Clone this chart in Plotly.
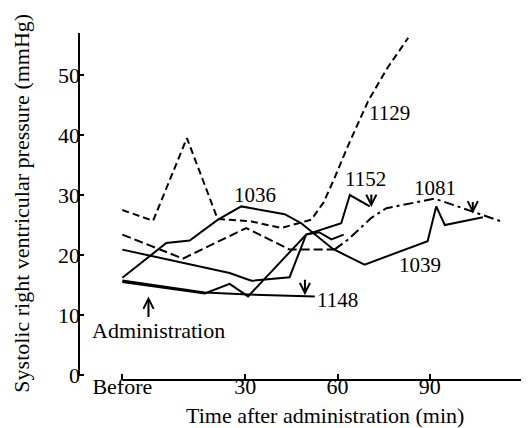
import plotly.graph_objects as go

# ---- data (time in min; "Before" plotted at -10) ----
x_tickvals = [-10, 30, 60, 90, 120]
x_ticktext = ["Before", "30", "60", "90", "120"]
y_tickvals = [0, 10, 20, 30, 40, 50]

t_1129 = [-10, 0, 11, 21, 32, 41.7, 51.5, 55.5, 59, 63.4, 70, 76, 83]
v_1129 = [27.5, 25.7, 39.5, 26.0, 25.6, 24.5, 25.9, 28.8, 32.8, 38.2, 45.7, 51.0, 56.2]

t_1036 = [-10, 4.3, 11.9, 21.1, 28.7, 42.8, 48.2, 58.5, 68.8, 89.3, 92.1, 94.9, 107.3]
v_1036 = [16.2, 22.0, 22.4, 25.9, 28.1, 26.8, 25.3, 21.0, 18.4, 22.3, 28.1, 25.0, 26.3]

t_1039 = [-10, 11.9, 24.9, 29.2, 32, 44.4, 49.8, 54, 58, 62]
v_1039 = [20.9, 18.4, 17.0, 16.2, 15.7, 16.3, 23.4, 23.8, 22.6, 23.4]

t_1152 = [-10, 16.8, 24.9, 30.9, 49.8, 55, 61.2, 64, 70.5]
v_1152 = [15.5, 13.6, 15.2, 13.1, 23.4, 24.3, 25.3, 30.0, 28.1]

t_1148 = [-10, 16.8, 31, 52.6]
v_1148 = [15.75, 13.75, 13.4, 13.1]

t_1081 = [-10, 9.7, 30.3, 44.4, 59, 63.5, 71, 75.9, 91.6, 107.3, 113.3]
v_1081 = [23.4, 19.4, 24.5, 20.9, 20.9, 22.6, 26.2, 27.8, 29.4, 26.7, 25.6]

FONT = "Liberation Serif, Times New Roman, DejaVu Serif, serif"
fig = go.Figure()

def add_line(t, v, dash="solid", width=2):
    fig.add_trace(go.Scatter(x=t, y=v, mode="lines",
                             line=dict(color="black", width=width, dash=dash),
                             showlegend=False, hoverinfo="skip"))

add_line(t_1129, v_1129, dash="7px,4px")
add_line(t_1036, v_1036)
add_line(t_1039, v_1039)
add_line(t_1152, v_1152)
add_line(t_1148, v_1148)
add_line(t_1081[:5], v_1081[:5], dash="9px,4px")
add_line(t_1081[4:], v_1081[4:], dash="10px,4px,3px,4px")

labels = [
    ("1036", 33.2, 30.0),
    ("1129", 76.8, 43.7),
    ("1152", 69.0, 32.7),
    ("1081", 91.7, 31.2),
    ("1039", 86.8, 18.3),
    ("1148", 59.9, 12.5),
]
annotations = []
for txt, x, y in labels:
    annotations.append(dict(x=x, y=y, text=txt, showarrow=False,
                            font=dict(family=FONT, size=21, color="black")))

annotations.append(dict(x=1.9, y=7.5, text="Administration", showarrow=False,
                        font=dict(family=FONT, size=22, color="black")))

# arrows (tip at x,y; tail offset in px)
arrows = [
    (-1.5, 13.1, 0, 22),      # administration, pointing up
    (t_1148[-1] - 3.2, 13.3, 0, -17),
    (t_1152[-1] + 0.5, 28.0, 0, -14),
    (104.0, 26.9, 0, -13),
]
for x, y, ax, ay in arrows:
    annotations.append(dict(x=x, y=y, ax=ax, ay=ay, text="", showarrow=True,
                            arrowhead=5, arrowsize=1.0, arrowwidth=2,
                            arrowcolor="black"))

annotations.append(dict(xref="paper", yref="paper", x=0.548, y=-0.101,
                        text="Time after administration (min)", showarrow=False,
                        xanchor="center", yanchor="middle",
                        font=dict(family=FONT, size=22, color="black")))
annotations.append(dict(xref="paper", yref="paper", x=-0.13, y=0.51,
                        text="Systolic right ventricular pressure (mmHg)",
                        showarrow=False, textangle=-90,
                        xanchor="center", yanchor="middle",
                        font=dict(family=FONT, size=22, color="black")))

shapes = [
    dict(type="line", xref="paper", yref="y", x0=0, x1=0, y0=0, y1=57,
         line=dict(color="black", width=2)),
    dict(type="line", xref="x", yref="paper", x0=-10, x1=121, y0=0, y1=0,
         line=dict(color="black", width=2)),
]

fig.update_layout(
    width=529, height=428,
    margin=dict(l=71, r=9, t=25, b=56),
    paper_bgcolor="white", plot_bgcolor="white",
    font=dict(family=FONT, size=22, color="black"),
    annotations=annotations, shapes=shapes,
    xaxis=dict(range=[-24.1, 121.96], tickvals=x_tickvals, ticktext=x_ticktext,
               ticks="inside", ticklen=6, tickwidth=1.5, tickcolor="black",
               showgrid=False, zeroline=False, showline=False,
               ticklabelstandoff=-9,
               tickfont=dict(family=FONT, size=22, color="black")),
    yaxis=dict(range=[-0.83, 57], tickvals=y_tickvals,
               ticks="inside", ticklen=5, tickwidth=1.5, tickcolor="black",
               showgrid=False, zeroline=False, showline=False,
               ticklabelstandoff=-2,
               tickfont=dict(family=FONT, size=22, color="black")),
)

fig.write_html("out.html")
